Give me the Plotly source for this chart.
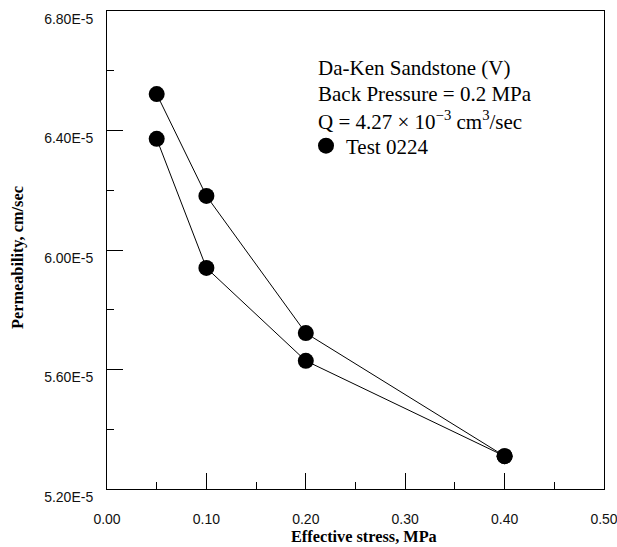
import plotly.graph_objects as go

# Permeability vs effective stress, loading and unloading branches
stress_up = [0.05, 0.10, 0.20, 0.40]
perm_up = [6.522e-5, 6.181e-5, 5.722e-5, 5.310e-5]
stress_down = [0.40, 0.20, 0.10, 0.05]
perm_down = [5.310e-5, 5.629e-5, 5.940e-5, 6.372e-5]

x_ticks = [0.0, 0.1, 0.2, 0.3, 0.4, 0.5]
x_labels = ["0.00", "0.10", "0.20", "0.30", "0.40", "0.50"]
y_ticks = [5.2e-5, 5.6e-5, 6.0e-5, 6.4e-5, 6.8e-5]
y_labels = ["5.20E-5", "5.60E-5", "6.00E-5", "6.40E-5", "6.80E-5"]

info_lines = [
    "Da-Ken Sandstone (V)",
    "Back Pressure = 0.2 MPa",
    "Q = 4.27 \u00d7 10<sup>\u22123</sup> cm<sup>3</sup>/sec",
]

# plot-area geometry in pixels
L, R, T, B = 107, 604, 11, 489
W, H = R - L, B - T

def px(x):
    return (x - L) / W

def py(y):
    return 1 - (y - T) / H

marker = dict(symbol="circle", size=16, color="black")
line = dict(color="black", width=1)
serif = "Liberation Serif"
sans = "Liberation Sans"

fig = go.Figure()
# connecting lines
for xs, ys in [(stress_up, perm_up), (stress_down, perm_down)]:
    fig.add_trace(go.Scatter(x=xs, y=ys, mode="lines", line=line,
                             showlegend=False, hoverinfo="skip"))
# data points
fig.add_trace(go.Scatter(x=stress_up, y=perm_up, mode="markers", marker=marker,
                         name="Test 0224", showlegend=True))
fig.add_trace(go.Scatter(x=stress_down, y=perm_down, mode="markers", marker=marker,
                         name="Test 0224", showlegend=False))

for i, txt in enumerate(info_lines):
    fig.add_annotation(xref="paper", yref="paper", x=px(316),
                       y=py(68 + 26 * i), text=txt,
                       showarrow=False, xanchor="left", yanchor="middle",
                       font=dict(family=serif, size=21, color="black"))

fig.add_annotation(xref="paper", yref="paper", x=px(17), y=py(258),
                   text="<b>Permeability, cm/sec</b>", textangle=-90,
                   showarrow=False, xanchor="center", yanchor="middle",
                   font=dict(family=serif, size=16.3, color="black"))
fig.add_annotation(xref="paper", yref="paper", x=px(364), y=py(536),
                   text="<b>Effective stress, MPa</b>",
                   showarrow=False, xanchor="center", yanchor="middle",
                   font=dict(family=serif, size=16.3, color="black"))

axis_common = dict(showline=True, linecolor="black", linewidth=1, mirror=True,
                   ticks="inside", ticklen=16, tickcolor="black", tickwidth=1,
                   showgrid=False, zeroline=False, ticklabeloverflow="allow",
                   automargin=False,
                   tickfont=dict(family=sans, size=14, color="#111"))

fig.update_xaxes(range=[0, 0.5], tickvals=x_ticks, ticktext=x_labels,
                 minor=dict(ticks="inside", ticklen=7, dtick=0.05, tick0=0,
                            tickcolor="black", showgrid=False),
                 ticklabelstandoff=17, **axis_common)
fig.update_yaxes(range=[5.2e-5, 6.8e-5], tickvals=y_ticks, ticktext=y_labels,
                 minor=dict(ticks="inside", ticklen=7, dtick=0.2e-5, tick0=5.2e-5,
                            tickcolor="black", showgrid=False),
                 ticklabelstandoff=10, ticklabelshift=8, **axis_common)

fig.update_layout(
    width=617, height=547,
    margin=dict(l=L, r=617 - R, t=T, b=547 - B, autoexpand=False),
    paper_bgcolor="white", plot_bgcolor="white",
    showlegend=True,
    legend=dict(xref="paper", yref="paper", x=px(306), y=py(146),
                xanchor="left", yanchor="middle",
                bgcolor="rgba(0,0,0,0)", borderwidth=0, itemwidth=30,
                font=dict(family=serif, size=21, color="black")),
)

fig.write_html("out.html")
